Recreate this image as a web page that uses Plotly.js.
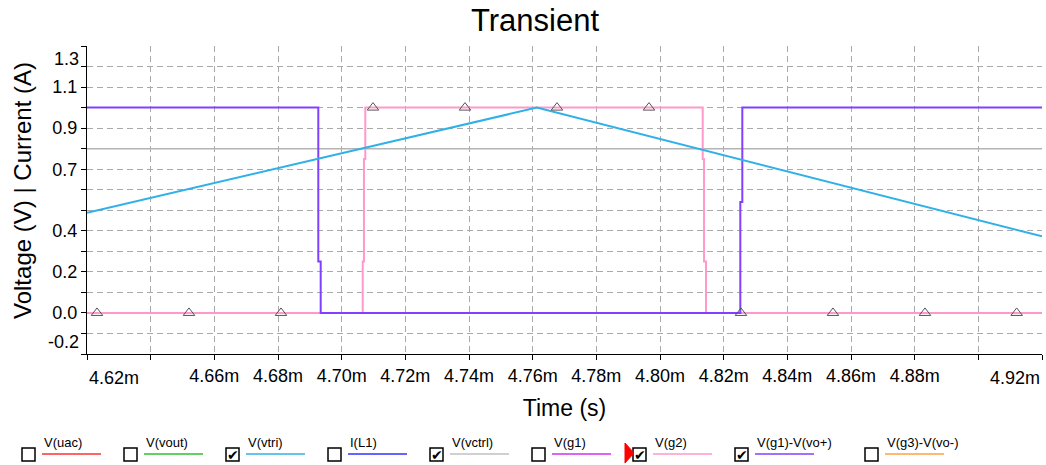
<!DOCTYPE html>
<html>
<head>
<meta charset="utf-8">
<script src="https://cdn.plot.ly/plotly-3.0.1.min.js"></script>
<style>html,body{margin:0;padding:0;background:#fff;}#chart{width:1046px;height:465px;}</style>
</head>
<body>
<div id="chart"></div>
<script>
// ---- data (time in ms) ----
const tVtri = [4.62, 4.7613, 4.92];
const vVtri = [0.488, 1.0, 0.373];

const tVctrl = [4.62, 4.92];
const vVctrl = [0.8, 0.8];

const tVg2 = [4.62, 4.70661, 4.70661, 4.7070, 4.7070, 4.70742, 4.70742, 4.81342, 4.81342, 4.81383, 4.81383, 4.81445, 4.81445, 4.92];
const vVg2 = [0, 0, 0.25, 0.25, 0.75, 0.75, 1, 1, 0.75, 0.75, 0.25, 0.25, 0, 0];

const tVg1vo = [4.62, 4.69266, 4.69266, 4.69341, 4.69341, 4.82523, 4.82523, 4.82586, 4.82586, 4.92];
const vVg1vo = [1, 1, 0.25, 0.25, 0, 0, 0.54, 0.54, 1, 1];

const tMarkers = [4.62314, 4.65204, 4.68094, 4.70984, 4.73874, 4.76764, 4.79654, 4.82544, 4.85434, 4.88324, 4.91205];
const vMarkers = [0, 0, 0, 1, 1, 1, 1, 0, 0, 0, 0];

const xTickVals = [4.62, 4.64, 4.66, 4.68, 4.70, 4.72, 4.74, 4.76, 4.78, 4.80, 4.82, 4.84, 4.86, 4.88, 4.90, 4.92];
const xTickText = ['', '', '4.66m', '4.68m', '4.70m', '4.72m', '4.74m', '4.76m', '4.78m', '4.80m', '4.82m', '4.84m', '4.86m', '4.88m', '', ''];
const xEdgeLabels = ['4.62m', '4.92m'];

const yTickVals = [-0.2, -0.1, 0.0, 0.1, 0.2, 0.3, 0.4, 0.5, 0.6, 0.7, 0.8, 0.9, 1.0, 1.1, 1.2, 1.3];
const yTickText = ['', '', '0.0', '', '0.2', '', '0.4', '', '', '0.7', '', '0.9', '', '1.1', '', ''];
const yEdgeLabels = ['-0.2', '1.3'];

const seriesNames = ['V(uac)', 'V(vout)', 'V(vtri)', 'I(L1)', 'V(vctrl)', 'V(g1)', 'V(g2)', 'V(g1)-V(vo+)', 'V(g3)-V(vo-)'];
const seriesColors = ['#ff3030', '#30c030', '#30b0e8', '#3030ff', '#c0c0c0', '#d030f0', '#ff99cc', '#8040ff', '#ffa040'];
const seriesChecked = [false, false, true, false, true, false, true, true, false];

// ---- layout geometry (pixels) ----
const W = 1046, H = 465, L = 87, R = 1042, T = 46, B = 354;
const px = x => (x - L) / (R - L);
const py = y => (B - y) / (B - T);
const legendX = [42, 144, 246, 348, 450, 552, 653, 755, 885];
const FONT = 'Liberation Sans, Arial, sans-serif';

const traces = [
  {x: tVctrl, y: vVctrl, mode: 'lines', line: {color: '#b4b4b4', width: 1.5}, name: 'V(vctrl)'},
  {x: tVg2, y: vVg2, mode: 'lines', line: {color: '#ff99cc', width: 2}, name: 'V(g2)'},
  {x: tVg1vo, y: vVg1vo, mode: 'lines', line: {color: '#8040ff', width: 2}, name: 'V(g1)-V(vo+)'},
  {x: tVtri, y: vVtri, mode: 'lines', line: {color: '#30b0e8', width: 2}, name: 'V(vtri)'},
  {x: tMarkers, y: vMarkers, mode: 'markers', marker: {symbol: 'triangle-up-open', size: 10, color: '#555', line: {width: 1, color: '#555'}}, name: 'V(g2) markers'}
];

const shapes = [];
const annotations = [];

// edge tick labels
annotations.push({xref: 'x', yref: 'paper', x: 4.62, y: 0, xanchor: 'left', yanchor: 'top', yshift: -12, text: xEdgeLabels[0], showarrow: false, font: {family: FONT, size: 18, color: '#000'}});
annotations.push({xref: 'x', yref: 'paper', x: 4.92, y: 0, xanchor: 'right', yanchor: 'top', yshift: -12, text: xEdgeLabels[1], showarrow: false, font: {family: FONT, size: 18, color: '#000'}});
annotations.push({xref: 'paper', yref: 'y', x: 0, y: -0.2, xanchor: 'right', yanchor: 'bottom', xshift: -6, yshift: 0, text: yEdgeLabels[0], showarrow: false, font: {family: FONT, size: 18, color: '#000'}});
annotations.push({xref: 'paper', yref: 'y', x: 0, y: 1.3, xanchor: 'right', yanchor: 'top', xshift: -6, yshift: -1, text: yEdgeLabels[1], showarrow: false, font: {family: FONT, size: 18, color: '#000'}});

// y axis title
annotations.push({xref: 'paper', yref: 'paper', x: px(22), y: py(191), xanchor: 'center', yanchor: 'middle', textangle: -90, text: 'Voltage (V) | Current (A)', showarrow: false, font: {family: FONT, size: 24, color: '#000'}});

// custom legend
for (let i = 0; i < seriesNames.length; i++) {
  const lx = legendX[i];
  const bx = lx - 20;
  shapes.push({type: 'rect', xref: 'paper', yref: 'paper', x0: px(bx), x1: px(bx + 13), y0: py(461), y1: py(448), line: {color: '#000', width: 1.5}, fillcolor: '#fff'});
  shapes.push({type: 'line', xref: 'paper', yref: 'paper', x0: px(lx), x1: px(lx + 59), y0: py(454), y1: py(454), line: {color: seriesColors[i], width: 1.5}});
  annotations.push({xref: 'paper', yref: 'paper', x: px(lx), y: py(443), xanchor: 'left', yanchor: 'middle', text: seriesNames[i], showarrow: false, font: {family: FONT, size: 13, color: '#000'}});
  if (seriesChecked[i]) {
    annotations.push({xref: 'paper', yref: 'paper', x: px(bx + 7), y: py(455), xanchor: 'center', yanchor: 'middle', text: '<b>\u2714</b>', showarrow: false, font: {family: 'DejaVu Sans', size: 14, color: '#000'}});
  }
}
// red pointer in front of V(g2)
shapes.push({type: 'path', xref: 'paper', yref: 'paper', path: `M ${px(625)} ${py(443)} L ${px(634)} ${py(453)} L ${px(625)} ${py(463)} Z`, fillcolor: '#ff0000', line: {color: '#ff0000', width: 1}});

const axisCommon = {
  showline: true, linecolor: '#000', linewidth: 1,
  ticks: 'outside', ticklen: 5, tickcolor: '#000', tickwidth: 1,
  showgrid: true, gridcolor: '#aaaaaa', gridwidth: 1, griddash: '6px,4px',
  zeroline: false, tickfont: {family: FONT, size: 18, color: '#000'}
};

const layout = {
  width: W, height: H,
  margin: {l: L, r: W - R, t: T, b: H - B, pad: 0},
  paper_bgcolor: '#fff', plot_bgcolor: '#fff',
  showlegend: false,
  title: {text: 'Transient', font: {family: FONT, size: 31, color: '#000'}, x: 535 / W, xanchor: 'center', y: 1 - 20 / H, yanchor: 'middle', xref: 'container', yref: 'container'},
  xaxis: Object.assign({}, axisCommon, {
    range: [4.62, 4.92], tickmode: 'array', tickvals: xTickVals, ticktext: xTickText,
    title: {text: 'Time (s)', font: {family: FONT, size: 23, color: '#000'}, standoff: 15}
  }),
  yaxis: Object.assign({}, axisCommon, {
    range: [-0.2, 1.3], tickmode: 'array', tickvals: yTickVals, ticktext: yTickText
  }),
  shapes: shapes,
  annotations: annotations
};

Plotly.newPlot('chart', traces, layout, {displayModeBar: false, staticPlot: true});
</script>
</body>
</html>
